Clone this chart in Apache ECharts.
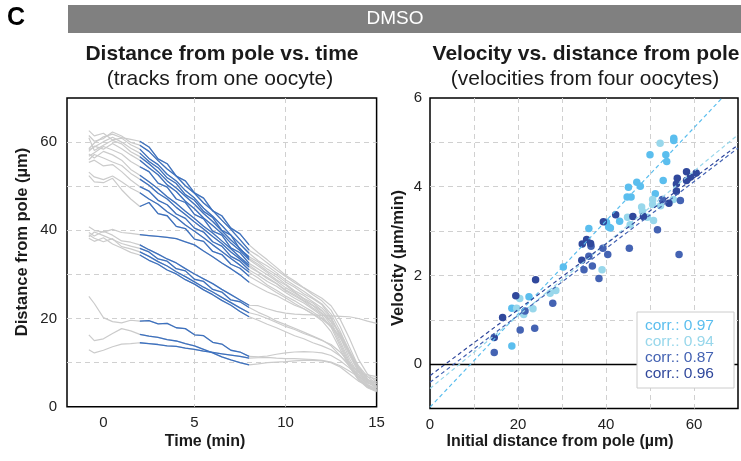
<!DOCTYPE html>
<html><head><meta charset="utf-8">
<script src="https://cdn.jsdelivr.net/npm/echarts@6/dist/echarts.min.js"></script>
<style>html,body{margin:0;padding:0;background:#fff}#c{width:741px;height:461px}</style>
</head><body><div id="c"></div>
<script>
// ---------- DATA ----------
const times = [-0.8,-0.5,0,0.5,1,1.5,2,2.5,3,3.5,4,4.5,5,5.5,6,6.5,7,7.5,8,8.5,9,9.5,10,10.5,11,11.5,12,12.5,13,13.5,14,14.5,15];
const blueStart = 2, blueEnd = 8; // minutes highlighted in blue

const trackA1 = [58.5,59.8,61.2,61.8,61.0,60.6,60.2,58.9,56.2,55.1,52.3,51.2,48.5,47.3,44.4,43.3,40.5,39.2,36.7,34.9,33.3,31.6,29.8,28.5,27.0,25.8,24.6,22.9,19.8,15.6,10.8,7.4,5.6];
const trackA2 = [61.5,60.2,60.8,62.3,61.4,59.9,59.3,57.9,55.8,53.9,52.3,50.1,48.4,46.2,44.5,42.3,40.2,37.9,35.5,34.2,32.6,31.0,29.5,28.1,26.9,25.4,24.0,21.9,18.2,13.6,9.1,6.3,4.6];
const trackA3 = [62.6,61.4,62.0,60.5,60.9,59.4,58.4,56.3,54.9,52.7,51.2,49.0,47.3,45.0,43.2,41.1,38.9,36.9,34.8,33.1,31.9,30.4,28.8,27.5,26.2,24.7,23.3,21.0,17.1,12.5,8.4,5.7,4.2];
const trackA4 = [58.2,58.9,60.1,61.1,60.0,58.6,57.5,55.6,54.2,51.9,50.6,48.1,46.8,44.3,42.9,40.0,38.9,35.7,34.0,32.8,31.2,29.9,28.3,27.1,25.6,24.5,23.1,20.3,16.2,11.8,7.9,5.1,3.8];
const trackA5 = [61.0,58.1,59.3,60.4,59.6,57.8,56.7,55.1,53.3,51.2,49.6,47.7,45.9,43.8,42.0,39.9,37.8,35.9,33.6,32.3,30.7,29.4,27.8,26.3,25.2,23.8,22.4,20.1,15.8,11.0,7.3,4.9,3.9];
const trackA6 = [57.9,59.1,58.4,59.7,58.5,57.1,55.9,54.2,52.6,50.3,48.8,46.6,44.9,42.8,41.1,39.3,37.1,35.4,33.3,31.9,30.4,28.8,27.6,26.0,24.6,23.5,21.8,19.2,14.9,10.3,6.8,4.7,3.6];
const trackA7 = [56.8,57.6,59.0,58.2,57.3,55.6,54.4,53.3,50.7,49.8,47.1,46.3,43.6,42.6,39.8,38.9,36.0,34.9,32.5,31.2,29.9,28.5,27.0,25.8,24.4,23.0,21.7,19.8,16.4,12.2,8.2,5.5,4.3];
const trackA8 = [57.3,56.4,57.9,57.1,55.9,53.8,52.5,51.0,49.4,47.6,46.1,44.3,42.7,40.9,39.4,37.6,35.8,33.9,32.1,30.6,29.3,28.0,26.5,25.4,24.1,22.9,21.2,18.6,14.3,9.8,6.5,4.5,3.5];
const trackA9 = [56.0,57.2,56.4,55.5,54.7,52.9,51.6,50.2,48.4,47.1,45.2,43.6,41.9,40.3,38.6,37.0,35.1,33.5,31.7,30.5,29.0,27.9,26.3,25.1,23.9,22.4,21.0,19.3,16.7,12.8,8.9,6.2,4.8];
const trackA10 = [55.4,55.9,54.6,54.9,53.3,51.4,49.9,48.9,46.8,45.8,43.7,42.7,40.5,39.6,37.4,36.4,34.1,33.0,31.0,29.8,28.4,27.3,25.9,24.6,23.5,22.1,20.6,18.0,13.7,9.4,6.2,4.4,3.7];
const trackA11 = [53.2,52.1,51.5,52.3,51.0,49.6,48.5,47.1,45.9,44.2,42.9,41.2,39.8,38.3,36.7,35.2,33.6,32.1,30.5,29.2,27.6,26.4,25.1,24.0,22.7,21.5,20.1,18.4,15.9,12.4,8.7,6.0,4.4];
const trackA12 = [52.4,51.0,50.8,51.8,49.2,47.1,45.4,46.3,43.8,43.3,40.9,40.4,38.0,37.5,35.2,34.5,32.3,31.4,29.6,28.4,27.2,25.9,24.7,23.4,22.2,21.0,19.5,17.0,13.0,9.1,6.1,4.3,3.4];
const trackB1 = [40.8,40.0,39.6,40.2,39.5,39.3,39.0,38.8,38.6,38.4,38.1,37.4,36.7,35.3,34.0,32.6,31.3,29.9,28.2,27.1,26.0,25.2,24.1,23.0,22.2,21.0,19.9,18.1,15.6,12.4,9.3,6.8,5.2];
const trackB2 = [39.5,38.7,39.8,38.9,37.6,37.3,36.7,35.6,34.6,33.5,32.6,31.3,30.1,29.0,27.9,26.6,25.4,24.2,23.0,22.9,22.2,21.6,21.2,21.0,20.9,20.8,20.7,20.6,20.5,20.4,20.0,19.4,18.9];
const trackB3 = [38.5,39.6,38.8,37.9,37.0,36.4,35.9,35.1,33.5,33.0,31.3,30.8,28.9,28.4,26.6,26.0,24.2,23.8,22.5,21.4,20.5,19.4,18.6,17.8,16.9,16.0,15.1,13.8,11.6,9.2,7.3,6.1,5.6];
const trackB4 = [39.0,38.2,37.4,38.1,36.3,35.8,35.1,34.1,32.9,31.9,30.6,29.5,28.3,27.1,26.0,24.8,23.6,22.4,21.3,20.8,20.0,19.1,18.2,17.5,16.6,15.9,15.0,14.1,12.4,10.0,7.9,6.8,6.3];
const trackB5 = [38.2,37.5,38.3,36.9,36.0,35.0,34.4,33.2,32.3,31.0,30.1,28.8,27.8,26.5,25.4,24.1,23.0,21.6,20.4,19.6,18.7,17.9,17.0,16.1,15.4,14.5,13.8,12.9,11.5,9.6,7.9,7.2,6.8];
const trackC1 = [25.0,23.4,20.2,19.3,19.0,19.6,19.4,19.5,18.8,18.9,17.9,17.7,16.3,16.1,14.6,14.2,12.8,12.4,11.4,11.3,11.5,11.9,12.2,12.4,12.5,12.4,12.2,11.6,10.4,8.8,6.9,5.4,4.6];
const trackC2 = [16.3,15.0,15.4,16.6,17.7,17.2,16.4,16.0,15.7,15.2,14.9,14.3,13.8,13.0,12.2,11.3,10.6,10.0,9.5,9.7,10.0,10.1,10.2,10.4,10.5,10.5,10.4,10.0,9.0,7.4,5.8,4.8,4.2];
const trackC3 = [12.9,12.2,12.8,13.6,14.2,14.3,14.5,14.3,14.1,13.8,13.7,13.3,13.0,12.6,12.3,12.0,11.7,11.4,11.0,11.1,11.2,11.0,10.9,10.9,10.8,10.7,10.5,10.1,9.3,8.1,6.8,5.9,5.3];
const tracks = [trackA1,trackA2,trackA3,trackA4,trackA5,trackA6,trackA7,trackA8,trackA9,trackA10,trackA11,trackA12,trackB1,trackB2,trackB3,trackB4,trackB5,trackC1,trackC2,trackC3];

// velocity vs initial distance, four oocytes: [distance µm, velocity µm/min]
const oocyte1 = [[55.4,5.09],[55.4,5.04],[50.0,4.72],[53.6,4.72],[53.8,4.57],[53.0,4.14],[47.0,4.10],[47.8,4.01],[45.1,3.99],[44.8,3.77],[45.7,3.77],[51.2,3.84],[40.1,3.20],[40.6,3.09],[41.0,3.07],[43.1,3.22],[36.1,3.06],[30.3,2.19],[18.6,1.26],[22.5,1.52],[18.6,0.41]];
const oocyte2 = [[52.3,4.98],[48.1,3.54],[48.3,3.44],[50.6,3.71],[50.6,3.60],[52.4,3.57],[55.3,3.71],[49.4,3.31],[50.8,3.24],[45.5,3.14],[44.9,3.31],[39.1,2.13],[20.4,1.48],[19.7,1.26],[21.3,1.12],[23.4,1.25],[27.3,1.60],[28.6,1.66]];
const oocyte3 = [[56.9,3.69],[52.8,3.71],[51.7,3.03],[56.6,2.47],[45.3,2.61],[40.4,2.47],[38.4,1.93],[36.9,2.21],[35.0,2.13],[36.1,2.43],[36.6,2.66],[39.3,2.61],[27.9,1.37],[23.8,0.81],[20.5,0.77],[21.6,1.20],[14.6,0.26]];
const oocyte4 = [[58.3,4.34],[60.5,4.31],[59.2,4.22],[58.3,4.14],[56.2,4.19],[56.0,4.06],[56.0,3.90],[54.3,3.63],[46.1,3.33],[48.5,3.33],[42.2,3.37],[39.4,3.21],[35.6,2.81],[34.6,2.71],[36.5,2.72],[34.5,2.34],[24.0,1.90],[19.5,1.54],[16.5,1.05],[14.6,0.60]];
// fitted lines: [[x0,y0],[x1,y1]]
const fit1 = [[0,-0.97],[70,6.38]];
const fit2 = [[0,-0.55],[70,5.17]];
const fit3 = [[0,-0.41],[70,4.87]];
const fit4 = [[0,-0.26],[70,4.94]];
const corrValues = ['0.97','0.94','0.87','0.96'];

const timeTicks = [0,5,10,15];

// ---------- STYLE ----------
const FF = '"Liberation Sans", Arial, Helvetica, sans-serif';
const oocyteColors = ['#5BBEEE','#98D7EB','#4463B3','#30489C'];
const GRAY = '#cbcbcb', BLUE = '#3c71c0';
const dash = {color:'#d0d0d0', type:[5,4], width:1};

const series = [];
tracks.forEach(tr => {
  const pts = times.map((t,i) => [t, tr[i]]);
  series.push({type:'line', xAxisIndex:0, yAxisIndex:0, data:pts, showSymbol:false, silent:true,
    lineStyle:{color:GRAY, width:1.2}, z:2});
});
tracks.forEach(tr => {
  const pts = times.map((t,i) => [t, tr[i]]).filter(p => p[0] >= blueStart && p[0] <= blueEnd);
  series.push({type:'line', xAxisIndex:0, yAxisIndex:0, data:pts, showSymbol:false, silent:true,
    lineStyle:{color:BLUE, width:1.3}, z:3});
});
[oocyte1,oocyte2,oocyte3,oocyte4].forEach((d,k) => {
  series.push({type:'scatter', xAxisIndex:1, yAxisIndex:1, data:d, symbolSize:7.5, silent:true,
    itemStyle:{color:oocyteColors[k], opacity:1}, z:4});
});
[fit1,fit2,fit3,fit4].forEach((d,k) => {
  series.push({type:'line', xAxisIndex:1, yAxisIndex:1, data:d, showSymbol:false, silent:true, clip:true,
    lineStyle:{color:oocyteColors[k], width:1.2, type:[4,3]}, z:5,
    markLine: k===0 ? {silent:true, symbol:'none', label:{show:false},
      lineStyle:{color:'#000', width:1.4, type:'solid'}, data:[{yAxis:0}]} : undefined});
});

const T = (text, x, y, size, weight, extra) => Object.assign({type:'text', x, y, style:{text, fontFamily:FF, fontSize:size,
  fontWeight:weight, fill:'#1a1a1a', align:'center', verticalAlign:'middle'}}, extra || {});

const graphic = [
  {type:'rect', shape:{x:68, y:5, width:673, height:28}, style:{fill:'#808080'}},
  {type:'text', x:395, y:19, style:{text:'DMSO', fontFamily:FF, fontSize:19, fill:'#fff', align:'center', verticalAlign:'middle'}},
  {type:'text', x:7, y:18, style:{text:'C', fontFamily:FF, fontSize:25, fontWeight:'bold', fill:'#000', align:'left', verticalAlign:'middle'}},
  T('Distance from pole vs. time', 222, 54, 21, 'bold'),
  T('(tracks from one oocyte)', 220, 79, 21, 'normal'),
  T('Velocity vs. distance from pole', 586, 54, 21, 'bold'),
  T('(velocities from four oocytes)', 585, 79, 21, 'normal'),
  T('Time (min)', 205, 442, 16, 'bold'),
  T('Initial distance from pole (µm)', 560, 442, 16, 'bold'),
  T('Distance from pole (µm)', 22, 242, 16.5, 'bold', {rotation:Math.PI/2}),
  T('Velocity (µm/min)', 398, 258, 16.5, 'bold', {rotation:Math.PI/2}),
  {type:'rect', z:100, shape:{x:637, y:312, width:97, height:76}, style:{fill:'#fff', stroke:'#cccccc', lineWidth:1}},
];
corrValues.forEach((v,k) => {
  graphic.push({type:'text', z:101, x:645, y:326 + k*16, style:{text:'corr.: ' + v, fontFamily:FF, fontSize:15.5,
    fill:oocyteColors[k], align:'left', verticalAlign:'middle'}});
});

const option = {
  animation:false,
  backgroundColor:'#fff',
  textStyle:{fontFamily:FF},
  grid:[
    {left:67, top:98, width:309.6, height:308.7, show:true, borderColor:'#000', borderWidth:1.5, containLabel:false},
    {left:430, top:98, width:310, height:310.5, show:true, borderColor:'#000', borderWidth:1.5, containLabel:false}
  ],
  xAxis:[
    {type:'value', gridIndex:0, min:-2, max:15, axisLine:{show:false}, axisTick:{show:false, customValues:timeTicks},
      axisLabel:{customValues:timeTicks, fontSize:15, color:'#222', margin:9, fontFamily:FF},
      splitLine:{show:true, lineStyle:dash, showMinLine:false, showMaxLine:false}},
    {type:'value', gridIndex:1, min:0, max:70, interval:10, axisLine:{show:false}, axisTick:{show:false},
      axisLabel:{fontSize:15, color:'#222', margin:9, fontFamily:FF, formatter:v => (v % 20 === 0 ? String(v) : '')},
      splitLine:{show:true, lineStyle:dash, showMinLine:false, showMaxLine:false}}
  ],
  yAxis:[
    {type:'value', gridIndex:0, min:0, max:70, interval:10, axisLine:{show:false}, axisTick:{show:false},
      axisLabel:{fontSize:15, color:'#222', margin:10, fontFamily:FF, formatter:v => (v % 20 === 0 ? String(v) : '')},
      splitLine:{show:true, lineStyle:dash, showMinLine:false, showMaxLine:false}},
    {type:'value', gridIndex:1, min:-1, max:6, interval:1, axisLine:{show:false}, axisTick:{show:false},
      axisLabel:{fontSize:15, color:'#222', margin:8, fontFamily:FF, formatter:v => (v >= 0 && v % 2 === 0 ? String(v) : '')},
      splitLine:{show:true, lineStyle:dash, showMinLine:false, showMaxLine:false}}
  ],
  series,
  graphic
};
const chart = echarts.init(document.getElementById('c'));
chart.setOption(option);
</script></body></html>
